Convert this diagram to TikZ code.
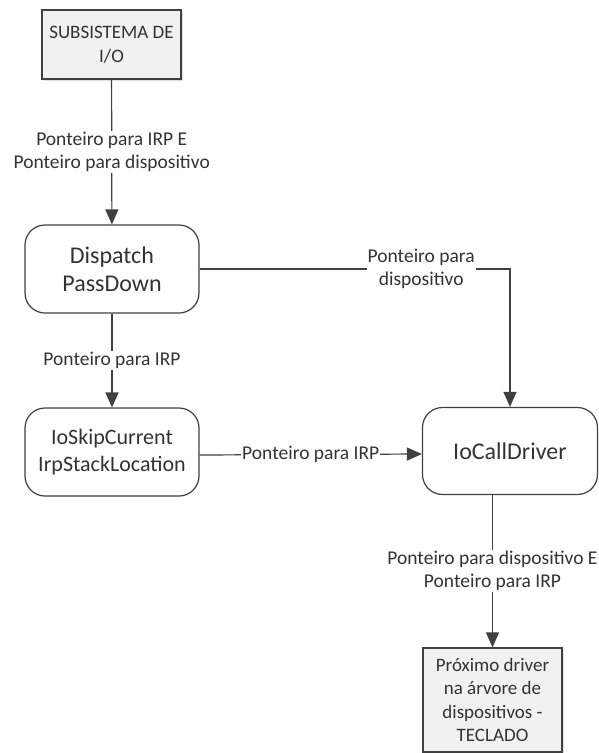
\documentclass[tikz,border=0pt]{standalone}
\usepackage{fontspec}
\setmainfont{Carlito}
\usetikzlibrary{arrows.meta,shadows}
\definecolor{ink}{HTML}{404040}
\definecolor{boxfill}{HTML}{F1F1F1}
\tikzset{
  plainbox/.style={draw=ink, line width=1.2pt, fill=boxfill, align=center,
    drop shadow={shadow xshift=2pt, shadow yshift=-2pt, opacity=0.25},
    font=\fontsize{19}{23.5}\selectfont, text=black!80},
  procbox/.style={draw=ink, line width=1.2pt, fill=white, rounded corners=20pt,
    align=center, minimum width=174pt, minimum height=88pt, text=black!80},
  flow/.style={draw=ink, line width=1.2pt, -{Triangle[length=15pt,width=13pt]}},
  flowlabel/.style={fill=white, inner xsep=1pt, inner ysep=1pt, align=center,
    font=\fontsize{19.5}{23}\selectfont, text=black!80}
}
\begin{document}
\begin{tikzpicture}[x=1pt,y=-1pt]
\useasboundingbox (0,0) rectangle (598,753);

% blocks
\node[plainbox, minimum width=139pt, minimum height=69pt] (io) at (111.5,44.5)
  {SUBSISTEMA DE\\I/O};
\node[procbox, font=\fontsize{24}{28}\selectfont] (disp) at (112,269)
  {Dispatch\\PassDown};
\node[procbox, font=\fontsize{22}{27}\selectfont] (skip) at (112,452)
  {IoSkipCurrent\\IrpStackLocation};
\node[procbox, minimum width=175pt, minimum height=87pt,
  font=\fontsize{24}{28}\selectfont] (call) at (510,451) {IoCallDriver};
\node[plainbox, minimum width=139pt, minimum height=104pt] (next) at (492.5,700)
  {Próximo driver\\na árvore de\\dispositivos -\\TECLADO};

% connectors
\draw[flow] (io) -- node[flowlabel] {Ponteiro para IRP E\\Ponteiro para dispositivo} (disp);
\draw[flow] (disp) -- node[flowlabel] {Ponteiro para IRP} (skip);
\draw[flow] (disp.east) -| node[flowlabel, pos=0.357] {Ponteiro para\\dispositivo} (call.north);
\draw[flow] ([yshift=-3pt]skip.east) -- node[flowlabel] {Ponteiro para IRP} ([yshift=-3pt]call.west);
\coordinate (callout) at (next.north |- call.south);
\draw[flow] (callout) -- node[flowlabel] {Ponteiro para dispositivo E\\Ponteiro para IRP} (next.north);
\end{tikzpicture}
\end{document}
